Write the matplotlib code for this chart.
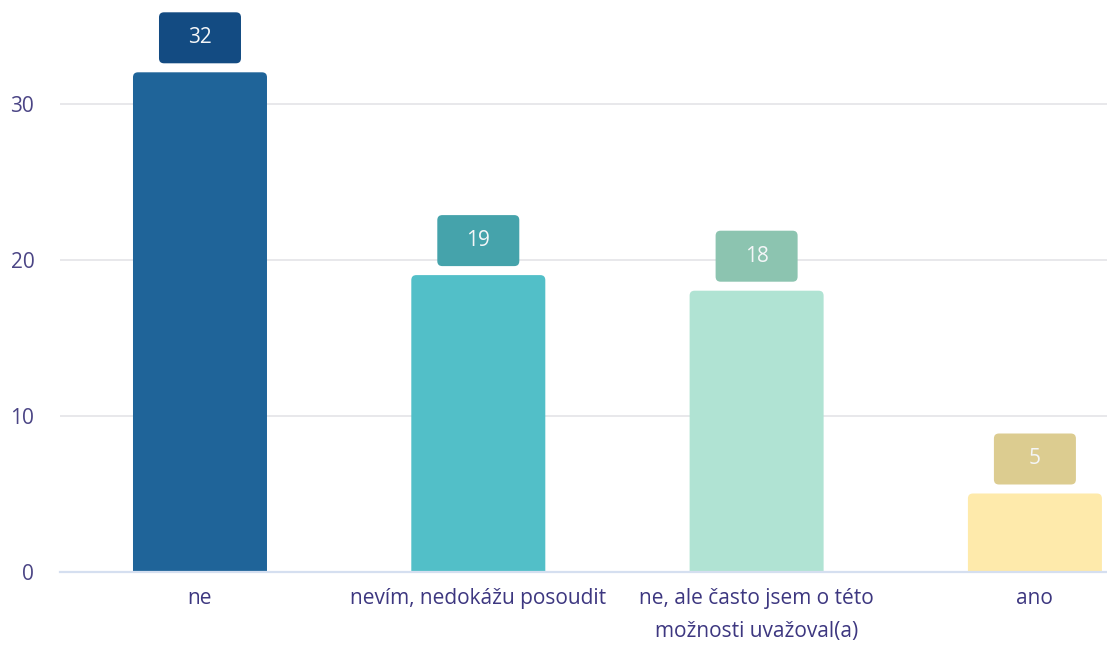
import matplotlib
matplotlib.use("Agg")
import matplotlib.pyplot as plt
from matplotlib.patches import FancyBboxPatch

plt.rcParams['font.family'] = ['Open Sans', 'DejaVu Sans']

categories = ["ne", "nevím, nedokážu posoudit", "ne, ale často jsem o této\nmožnosti uvažoval(a)", "ano"]
values = [32, 19, 18, 5]
bar_colors = ["#1f6499", "#52bfc8", "#b0e3d3", "#feeaab"]
box_colors = ["#134b82", "#45a3ab", "#8cc4b0", "#dccc90"]
yticks = [0, 10, 20, 30]

W, H = 1107, 647
fig = plt.figure(figsize=(W / 100, H / 100), dpi=100)
ax_left, ax_right = 60, 1107
ax_bottom_px = 571.5
ax = fig.add_axes([ax_left / W, (H - ax_bottom_px) / H, (ax_right - ax_left) / W, ax_bottom_px / H])

xlim = (-0.503, 3.259)
px_per_y = 15.6
ylim = (0, ax_bottom_px / px_per_y)
ax.set_xlim(*xlim)
ax.set_ylim(*ylim)
px_per_x = (ax_right - ax_left) / (xlim[1] - xlim[0])

for s in ax.spines.values():
    s.set_visible(False)
ax.set_yticks(yticks)
ax.set_yticklabels([str(t) for t in yticks])
ax.tick_params(axis='y', length=0, pad=18.5, labelsize=15, labelcolor="#4b4585")
ax.tick_params(axis='x', length=0, pad=12, labelsize=15, labelcolor="#3d3780")
for t in yticks[1:]:
    ax.axhline(t, xmin=0, xmax=1, color="#e4e4e8", lw=1.2, zorder=0)
ax.axhline(0, color="#d5dff0", lw=1.6, zorder=4, clip_on=False)

bar_w = 134 / px_per_x
aspect = px_per_x / px_per_y
r = 5 / px_per_x
for i, (v, c, bc) in enumerate(zip(values, bar_colors, box_colors)):
    p = FancyBboxPatch((i - bar_w / 2, -2), bar_w, v + 2,
                       boxstyle=f"round,pad=0,rounding_size={r}",
                       mutation_aspect=aspect, fc=c, ec="none", zorder=2)
    ax.add_patch(p)
    bw = 82 / px_per_x
    bh = 51 / px_per_y
    gap = 9 / px_per_y
    b = FancyBboxPatch((i - bw / 2, v + gap), bw, bh,
                       boxstyle=f"round,pad=0,rounding_size={r}",
                       mutation_aspect=aspect, fc=bc, ec="none", zorder=3, clip_on=False)
    ax.add_patch(b)
    ax.text(i, v + gap + bh / 2, str(v), ha='center', va='center', color="#f4f6f8",
            fontsize=15, zorder=5)

ax.set_xticks(range(len(categories)))
ax.set_xticklabels(categories, linespacing=1.75)

fig.savefig("out.png", dpi=100)
